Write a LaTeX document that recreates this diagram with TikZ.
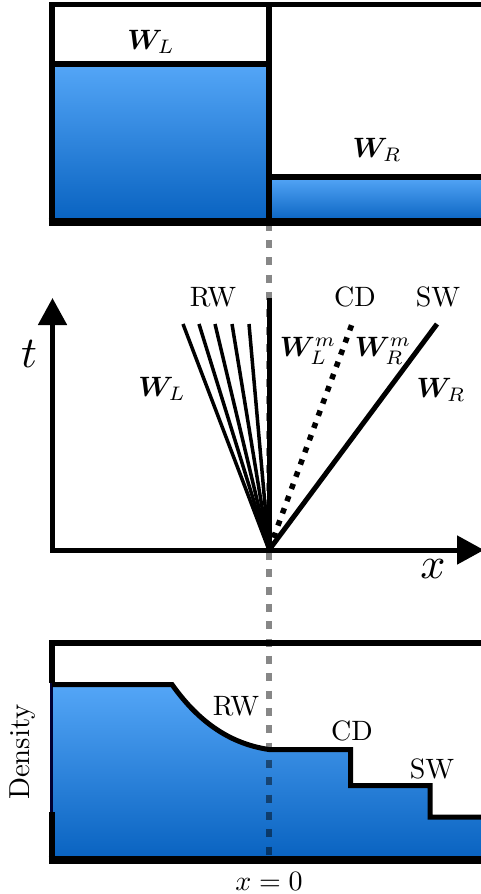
\RequirePackage{fix-cm}
\documentclass[tikz,border=0pt]{standalone}
\usepackage{fontspec}
\usepackage{bm}
\usetikzlibrary{arrows.meta}
\definecolor{wlight}{RGB}{84,166,247}
\definecolor{wdark}{RGB}{8,98,192}
\tikzset{
  water/.style={shading=axis, top color=wlight, bottom color=wdark, draw=none},
  frame/.style={line width=5.5pt, line cap=butt},
  heavy/.style={line width=8pt},
  fan/.style={line width=3.5pt},
  lbl/.style={inner sep=0pt, font=\fontsize{10}{12}\selectfont, scale=2.8},
  axlbl/.style={inner sep=0pt, font=\fontsize{10}{12}\selectfont, scale=4.4},
  centerline/.style={line width=6pt, black, opacity=0.47, dash pattern=on 8pt off 9.33pt},
}
\begin{document}
\begin{tikzpicture}[x=1pt,y=-1pt]
\useasboundingbox (0,0) rectangle (480,894);
% ---------- coordinates ----------
\coordinate (tl) at (52,4.5);
\coordinate (tr) at (486,4.5);
\coordinate (bl) at (52,222);
\coordinate (br) at (486,222);
\coordinate (dtop) at (269,4.5);
\coordinate (dbot) at (269,222);
\coordinate (wl1) at (52,64);
\coordinate (wl2) at (269,64);
\coordinate (wr1) at (269,177);
\coordinate (wr2) at (486,177);
\coordinate (o) at (269,550);
\coordinate (corner) at (52.5,550);
\coordinate (ttip) at (52.5,298);
\coordinate (xtip) at (484,550);
\coordinate (vt) at (269,298);
\coordinate (f1) at (183,324);
\coordinate (f2) at (199,324);
\coordinate (f3) at (215,324);
\coordinate (f4) at (232,324);
\coordinate (f5) at (249,324);
\coordinate (cd) at (352,324);
\coordinate (sw) at (437,324);
\coordinate (gtop) at (269,222.67);
\coordinate (gbot) at (269,860);
% ---------- fills ----------
\fill[water] (52,64) rectangle (269,222);
\fill[water] (269,177) rectangle (486,222);
\fill[water] (52,684.5) -- (172,684.5) .. controls (200,724) and (232,744) .. (269,749.5)
  -- (350.5,749.5) -- (350.5,785.5) -- (430,785.5) -- (430,817) -- (486,817)
  -- (486,860) -- (52,860) -- cycle;
% ---------- centre line x = 0 ----------
\draw[centerline] (gtop) -- (gbot);
% ---------- top panel ----------
\draw[frame] (bl) -- (tl) -- (tr);
\draw[heavy] (48.7,222) -- (br);
\draw[frame] (dtop) -- (dbot);
\draw[frame] (wl1) -- (wl2);
\draw[frame] (wr1) -- (wr2);
\node[lbl] (WL) at (151,42) {$\bm{W}_L$};
\node[lbl] (WR) at (377,150) {$\bm{W}_R$};
% ---------- middle panel ----------
\draw[line width=5pt, {Triangle[width=28pt,length=27pt]}-{Triangle[width=28pt,length=27pt]}]
  (ttip) -- (corner) -- (xtip);
\draw[line width=5pt] (o) -- (vt);
\foreach \f in {f1,f2,f3,f4,f5} \draw[fan] (o) -- (\f);
\draw[line width=5.5pt, dash pattern=on 5.5pt off 7.5pt] (o) -- (cd);
\draw[line width=5pt] (o) -- (sw);
\node[axlbl] (tlab) at (29,354) {$t$};
\node[axlbl] (xlab) at (433,569) {$x$};
\node[lbl] (rw) at (213,297) {RW};
\node[lbl] (cdl) at (355,297) {CD};
\node[lbl] (swl) at (438,297) {SW};
\node[lbl] (wlm) at (162,389) {$\bm{W}_L$};
\node[lbl] (wlmm) at (308,351) {$\bm{W}_L^m$};
\node[lbl] (wrmm) at (383,351) {$\bm{W}_R^m$};
\node[lbl] (wrm) at (441,390) {$\bm{W}_R$};
% ---------- bottom panel ----------
\draw[frame] (52,683) -- (52,643) -- (486,643);
\draw[line width=2.5pt, black!80!blue] (51.5,683) -- (51.5,812);
\draw[frame] (52,812) -- (52,860);
\draw[heavy] (48.7,860) -- (486,860);
\draw[line width=5pt, line join=miter] (52,684.5) -- (172,684.5) .. controls (200,724) and (232,744) .. (269,749.5)
  -- (350.5,749.5) -- (350.5,785.5) -- (430,785.5) -- (430,817) -- (486,817);
\node[lbl] (rwb) at (236,706) {RW};
\node[lbl] (cdb) at (352,731) {CD};
\node[lbl] (swb) at (432,769) {SW};
\node[lbl, rotate=90, scale=1.03] (dens) at (23,752) {Density};
\node[lbl, anchor=base] (x0) at (269,890) {$x=0$};
\end{tikzpicture}
\end{document}
